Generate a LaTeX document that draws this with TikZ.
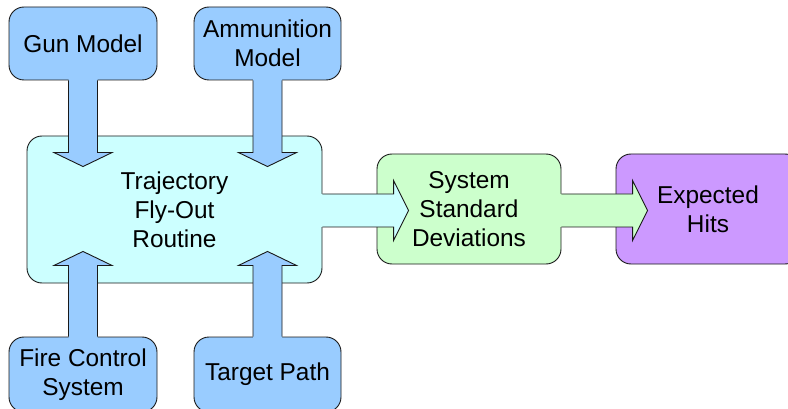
\documentclass[tikz,border=0pt]{standalone}
\usepackage{fontspec}
\setmainfont{Liberation Sans}
\usetikzlibrary{calc}
\definecolor{cblue}{HTML}{99CCFF}
\definecolor{ccyan}{HTML}{CCFFFF}
\definecolor{cgreen}{HTML}{CCFFCC}
\definecolor{cpurple}{HTML}{CC99FF}
\tikzset{
  outl/.style={draw=black!90, line width=0.9pt, line join=miter},
  boxstyle/.style={outl, rounded corners=15pt, inner sep=0pt, align=center,
    font=\fontsize{24.4}{29}\selectfont},
}
% vertical fat arrow: #1 start point, #2 tip, #3 fill, #4 = +1 (down) or -1 (up)
\newcommand\vfat[4]{%
  \fill[#3] let \p1=(#1), \p2=(#2) in
    (\x1-14.5pt,\y1+#4*2pt) -- (\x1-14.5pt,\y2+#4*14pt) -- (\x1-29pt,\y2+#4*14pt) -- (\x1,\y2)
    -- (\x1+29pt,\y2+#4*14pt) -- (\x1+14.5pt,\y2+#4*14pt) -- (\x1+14.5pt,\y1+#4*2pt) -- cycle;
  \draw[outl] let \p1=(#1), \p2=(#2) in
    (\x1-14.5pt,\y1) -- (\x1-14.5pt,\y2+#4*14pt) -- (\x1-29pt,\y2+#4*14pt) -- (\x1,\y2)
    -- (\x1+29pt,\y2+#4*14pt) -- (\x1+14.5pt,\y2+#4*14pt) -- (\x1+14.5pt,\y1);
}
% horizontal fat arrow to the right: #1 start, #2 tip, #3 fill
\newcommand\hfat[3]{%
  \fill[#3] let \p1=(#1), \p2=(#2) in
    (\x1-2pt,\y2+16.5pt) -- (\x2-15pt,\y2+16.5pt) -- (\x2-15pt,\y2+30pt) -- (\x2,\y2)
    -- (\x2-15pt,\y2-30pt) -- (\x2-15pt,\y2-16.5pt) -- (\x1-2pt,\y2-16.5pt) -- cycle;
  \draw[outl] let \p1=(#1), \p2=(#2) in
    (\x1,\y2+16.5pt) -- (\x2-15pt,\y2+16.5pt) -- (\x2-15pt,\y2+30pt) -- (\x2,\y2)
    -- (\x2-15pt,\y2-30pt) -- (\x2-15pt,\y2-16.5pt) -- (\x1,\y2-16.5pt);
}
\begin{document}
\begin{tikzpicture}[x=1pt,y=-1pt]
\useasboundingbox (0,0) rectangle (788,409);
\begin{scope}
\clip (0,0) rectangle (788,409);
% main box
\node[boxstyle, fill=ccyan, minimum width=295pt, minimum height=147pt] (traj) at (174.5,209.5) {Trajectory\\Fly-Out\\Routine};
% input boxes
\node[boxstyle, fill=cblue, minimum width=148pt, minimum height=73pt] (gun) at (83,43.5) {Gun Model};
\node[boxstyle, fill=cblue, minimum width=147pt, minimum height=73pt] (ammo) at (267.5,43.5) {Ammunition\\Model};
\node[boxstyle, fill=cblue, minimum width=148pt, minimum height=75pt] (fcs) at (83,374.5) {Fire Control\\System};
\node[boxstyle, fill=cblue, minimum width=147pt, minimum height=75pt] (tgt) at (267.5,374.5) {Target Path};
% tip coordinates
\coordinate (gtip) at ($(gun.south |- traj.north)+(0,31)$);
\coordinate (atip) at ($(ammo.south |- traj.north)+(0,31)$);
\coordinate (ftip) at ($(fcs.north |- traj.south)+(0,-32)$);
\coordinate (ttip) at ($(tgt.north |- traj.south)+(0,-32)$);
\vfat{gun.south}{gtip}{cblue}{1}
\vfat{ammo.south}{atip}{cblue}{1}
\vfat{fcs.north}{ftip}{cblue}{-1}
\vfat{tgt.north}{ttip}{cblue}{-1}
% output boxes
\node[boxstyle, fill=cgreen, minimum width=184pt, minimum height=110pt] (ssd) at (469,209) {System\\Standard\\Deviations};
\node[boxstyle, fill=cpurple, minimum width=184pt, minimum height=110pt] (hits) at (708,209) {Expected\\Hits};
\coordinate (stip) at ($(ssd.west |- traj.east)+(32,1)$);
\coordinate (htip) at ($(hits.west |- traj.east)+(32,1)$);
\hfat{traj.east}{stip}{ccyan}
\hfat{ssd.east}{htip}{cgreen}
\end{scope}
\end{tikzpicture}
\end{document}
